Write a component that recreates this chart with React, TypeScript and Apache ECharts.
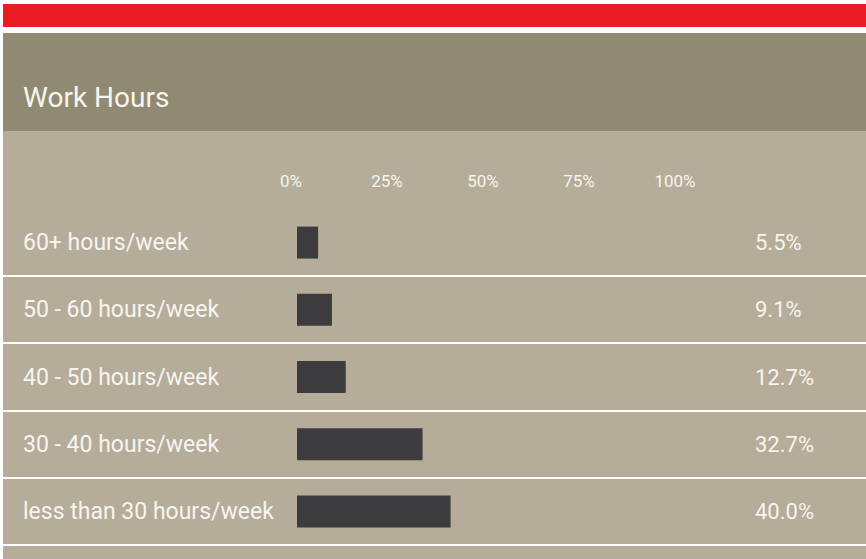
import React, { useEffect, useRef } from "react";
import * as echarts from "echarts";

const titleText = "Work Hours";
const categories = [
  "60+ hours/week",
  "50 - 60 hours/week",
  "40 - 50 hours/week",
  "30 - 40 hours/week",
  "less than 30 hours/week",
];
const values = [5.5, 9.1, 12.7, 32.7, 40.0];
const valueLabels = ["5.5%", "9.1%", "12.7%", "32.7%", "40.0%"];
const axisMin = 0;
const axisMax = 100;
const axisStep = 25;

const FONT = "Roboto, 'Noto Sans', sans-serif";
const TEXT = "#f7f5f0";
const PAGE_W = 866;

export default function App() {
  const ref = useRef<HTMLDivElement>(null);
  useEffect(() => {
    document.body.style.margin = "0";
    const chart = echarts.init(ref.current!, null, { renderer: "svg" });
    const background = [
      { type: "rect", z: -10, silent: true, shape: { x: 3, y: 4, width: 863, height: 23 }, style: { fill: "#e91c24" } },
      { type: "rect", z: -10, silent: true, shape: { x: 3, y: 33, width: 863, height: 98 }, style: { fill: "#918a73" } },
      { type: "rect", z: -10, silent: true, shape: { x: 3, y: 131, width: 863, height: 428 }, style: { fill: "#b5ac99" } },
    ];
    chart.setOption({
      animation: false,
      backgroundColor: "#ffffff",
      graphic: background,
      title: {
        text: titleText,
        left: 18,
        top: 78,
        textStyle: { color: TEXT, fontSize: 28, fontWeight: 400, fontFamily: FONT },
      },
      grid: { left: 297, right: 185, top: 209, bottom: 14, containLabel: false },
      xAxis: {
        type: "value",
        position: "top",
        min: axisMin,
        max: axisMax,
        interval: axisStep,
        axisLine: { show: false },
        axisTick: { show: false },
        splitLine: { show: false },
        axisLabel: {
          formatter: "{value}%",
          color: TEXT,
          fontSize: 17,
          fontWeight: 400,
          fontFamily: FONT,
          margin: 20,
          padding: [0, 12, 0, 0],
        },
      },
      yAxis: [
        {
          type: "category",
          inverse: true,
          data: categories,
          axisLine: { show: false },
          axisTick: { show: false },
          splitLine: { show: false },
          axisLabel: {
            align: "left",
            margin: 274,
            color: TEXT,
            fontSize: 23,
            fontFamily: FONT,
          },
        },
        {
          type: "category",
          inverse: true,
          position: "right",
          data: valueLabels,
          axisLine: { show: false },
          axisTick: { show: false },
          splitLine: { show: false },
          axisLabel: {
            align: "left",
            margin: 74,
            color: TEXT,
            fontSize: 22,
            fontFamily: FONT,
          },
        },
      ],
      series: [
        {
          type: "bar",
          yAxisIndex: 0,
          data: values,
          barWidth: 32,
          itemStyle: { color: "#3c3b3e" },
        },
      ],
    });
    // Row separators: full-width white lines at the lower edge of each category band
    const c0 = chart.convertToPixel({ yAxisIndex: 0 }, 0) as number;
    const c1 = chart.convertToPixel({ yAxisIndex: 0 }, 1) as number;
    const band = c1 - c0;
    const separators = categories.map((_, i) => {
      const y = Math.round(c0 + band * i + band / 2);
      return {
        type: "line",
        z: -5,
        silent: true,
        shape: { x1: 3, y1: y, x2: PAGE_W, y2: y },
        style: { stroke: "#ffffff", lineWidth: 2 },
      };
    });
    chart.setOption({ graphic: [...background, ...separators] });
    return () => chart.dispose();
  }, []);
  return <div ref={ref} style={{ width: 866, height: 559 }} />;
}
